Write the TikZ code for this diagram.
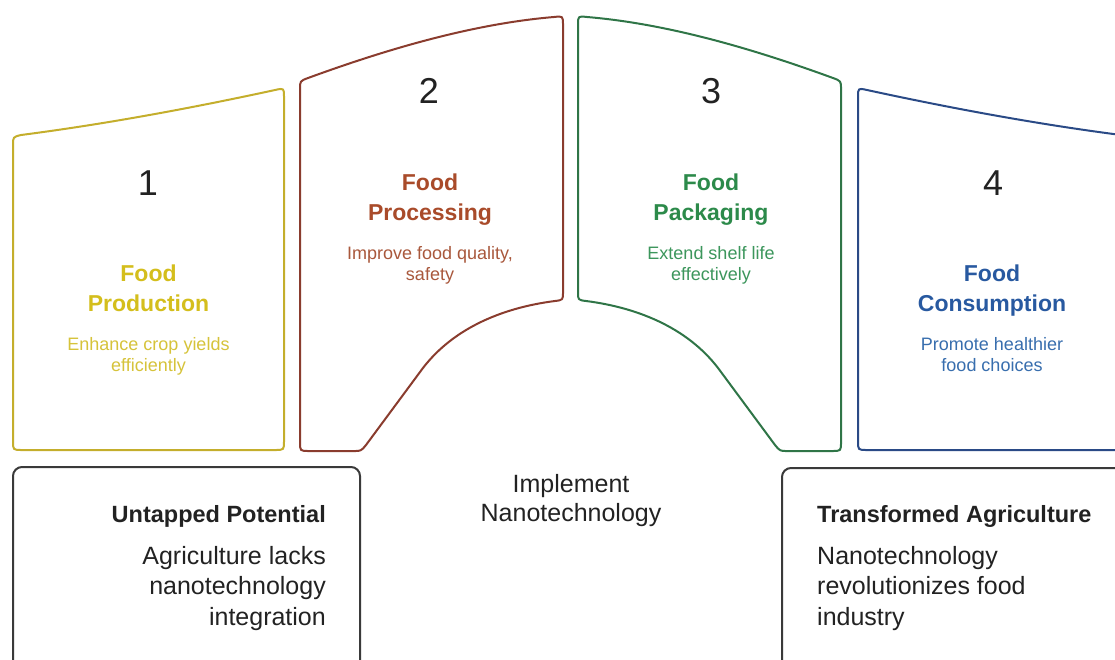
\documentclass[tikz,border=0pt]{standalone}
\usepackage{fontspec}
\setmainfont{Liberation Sans}

\definecolor{ylwline}{HTML}{C4AE2C}
\definecolor{ylwtext}{HTML}{D4BE1C}
\definecolor{ylwdesc}{HTML}{D6C33A}
\definecolor{brnline}{HTML}{8A3C2E}
\definecolor{brntext}{HTML}{A94B2A}
\definecolor{brndesc}{HTML}{A9583C}
\definecolor{grnline}{HTML}{2F7547}
\definecolor{grntext}{HTML}{2C8A4A}
\definecolor{grndesc}{HTML}{3C965C}
\definecolor{bluline}{HTML}{2A4A86}
\definecolor{blutext}{HTML}{2859A0}
\definecolor{bludesc}{HTML}{386EAE}
\definecolor{boxline}{HTML}{3A3A3A}
\definecolor{ink}{HTML}{222222}

\tikzset{
  card/.style={line width=2pt, fill=white, line join=round},
  statebox/.style={line width=2pt, draw=boxline, rounded corners=9pt},
  num/.style={font=\fontsize{36}{36}\selectfont, text=ink, anchor=base, inner sep=0pt},
  ttl/.style={font=\bfseries\fontsize{23}{23}\selectfont, anchor=base, inner sep=0pt},
  dsc/.style={font=\fontsize{18}{18}\selectfont, anchor=base, inner sep=0pt},
  head/.style={font=\bfseries\fontsize{23.5}{23.5}\selectfont, text=ink, inner sep=0pt},
  body/.style={font=\fontsize{25}{25}\selectfont, text=ink, inner sep=0pt},
}

\begin{document}
\begin{tikzpicture}[x=1pt, y=-1pt]
\useasboundingbox (0,0) rectangle (1115,659);
\clip (0,0) rectangle (1115,659);

% stage 1: food production
\draw[card, draw=ylwline]
  (13,441) -- (13,145) .. controls (13,137) .. (21,135)
  .. controls (106,124) and (192,108) .. (275,90)
  .. controls (284,88) .. (284,97) -- (284,441)
  .. controls (284,450) .. (275,450) -- (22,450)
  .. controls (13,450) .. (13,441) -- cycle;

% stage 4: food consumption (mirror of stage 1)
\begin{scope}[xshift=1142pt, xscale=-1]
\draw[card, draw=bluline]
  (13,441) -- (13,145) .. controls (13,137) .. (21,135)
  .. controls (106,124) and (192,108) .. (275,90)
  .. controls (284,88) .. (284,97) -- (284,441)
  .. controls (284,450) .. (275,450) -- (22,450)
  .. controls (13,450) .. (13,441) -- cycle;
\end{scope}

% stage 2: food processing
\draw[card, draw=brnline]
  (300,442) -- (300,89) .. controls (300,81) .. (308,78)
  .. controls (382,51) and (470,24) .. (554,17)
  .. controls (563,16) .. (563,25) -- (563,292)
  .. controls (563,300) .. (555,301)
  .. controls (500,308) and (450,330) .. (420,372)
  -- (366,445) .. controls (361,451) .. (354,451)
  -- (309,451) .. controls (300,451) .. (300,442) -- cycle;

% stage 3: food packaging (mirror of stage 2)
\begin{scope}[xshift=1141pt, xscale=-1]
\draw[card, draw=grnline]
  (300,442) -- (300,89) .. controls (300,81) .. (308,78)
  .. controls (382,51) and (470,24) .. (554,17)
  .. controls (563,16) .. (563,25) -- (563,292)
  .. controls (563,300) .. (555,301)
  .. controls (500,308) and (450,330) .. (420,372)
  -- (366,445) .. controls (361,451) .. (354,451)
  -- (309,451) .. controls (300,451) .. (300,442) -- cycle;
\end{scope}

% state boxes at the bottom
\draw[statebox] (13,700) -- (13,467) -- (360,467) -- (360,700);
\draw[statebox] (782,700) -- (782,468) -- (1150,468);

% stage 1 texts
\node[num] (n1) at (148,195) {1};
\node[ttl, text=ylwtext] (t1a) at (148.5,281) {Food};
\node[ttl, text=ylwtext] (t1b) at (148.5,311) {Production};
\node[dsc, text=ylwdesc] (d1a) at (148.5,350) {Enhance crop yields};
\node[dsc, text=ylwdesc] (d1b) at (148.5,371) {efficiently};

% stage 2 texts
\node[num] (n2) at (429,103) {2};
\node[ttl, text=brntext] (t2a) at (430,190) {Food};
\node[ttl, text=brntext] (t2b) at (430,220) {Processing};
\node[dsc, text=brndesc] (d2a) at (430,259) {Improve food quality,};
\node[dsc, text=brndesc] (d2b) at (430,280) {safety};

% stage 3 texts
\node[num] (n3) at (711,103) {3};
\node[ttl, text=grntext] (t3a) at (711,190) {Food};
\node[ttl, text=grntext] (t3b) at (711,220) {Packaging};
\node[dsc, text=grndesc] (d3a) at (711,259) {Extend shelf life};
\node[dsc, text=grndesc] (d3b) at (711,280) {effectively};

% stage 4 texts
\node[num] (n4) at (993,195) {4};
\node[ttl, text=blutext] (t4a) at (992,281) {Food};
\node[ttl, text=blutext] (t4b) at (992,311) {Consumption};
\node[dsc, text=bludesc] (d4a) at (992,350) {Promote healthier};
\node[dsc, text=bludesc] (d4b) at (992,371) {food choices};

% left state
\node[head, anchor=base east] (sa) at (326,522) {Untapped Potential};
\node[body, anchor=base east] (sb) at (326,564) {Agriculture lacks};
\node[body, anchor=base east] (sc) at (326,594) {nanotechnology};
\node[body, anchor=base east] (sd) at (326,625) {integration};

% transition label
\node[body, anchor=base] (ia) at (571,492) {Implement};
\node[body, anchor=base] (ib) at (571,521) {Nanotechnology};

% right state
\node[head, anchor=base west] (ea) at (817,522) {Transformed Agriculture};
\node[body, anchor=base west] (eb) at (817,564) {Nanotechnology};
\node[body, anchor=base west] (ec) at (817,594) {revolutionizes food};
\node[body, anchor=base west] (ed) at (817,625) {industry};
\end{tikzpicture}
\end{document}
